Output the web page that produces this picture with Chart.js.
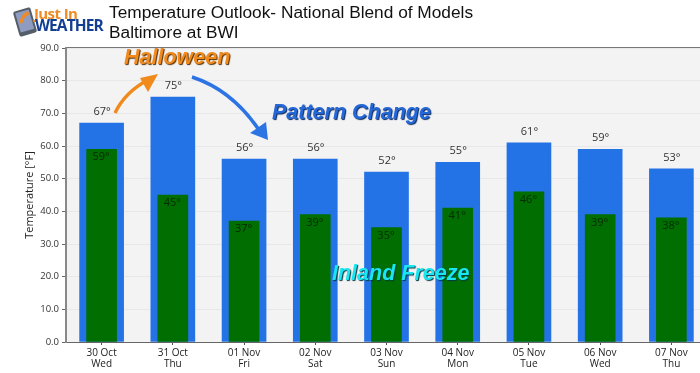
<!DOCTYPE html>
<html>
<head>
<meta charset="utf-8">
<script src="https://cdn.jsdelivr.net/npm/chart.js@4"></script>
<style>
  html, body { margin: 0; padding: 0; background: #fff; overflow: hidden; }
  #wrap { position: relative; width: 700px; height: 373px; overflow: hidden; }
  #box { position: absolute; left: 0; top: 0; width: 707px; height: 373px; }
  .title { position: absolute; left: 109px; font: 17.3px "Liberation Sans", sans-serif; color: #111; white-space: nowrap; }
  .note { position: absolute; font: italic bold 21.5px "Liberation Sans", sans-serif; white-space: nowrap; }
  #logo1 { position: absolute; left: 34px; top: 3px; font: bold 15px "Open Sans", sans-serif; color: #ef8b24; letter-spacing: -0.6px; }
  #logo2 { position: absolute; left: 35px; top: 14px; font: bold 15.5px "Open Sans", sans-serif; color: #123f94; letter-spacing: -0.9px; }
  svg { position: absolute; left: 0; top: 0; }
</style>
</head>
<body>
<div id="wrap">
  <div id="box"><canvas id="c"></canvas></div>
  <svg width="700" height="373">
    <g transform="rotate(-16 25 22)">
      <rect x="16" y="9" width="18" height="26" rx="2" fill="#555d68"/>
      <rect x="18" y="11" width="14" height="20" fill="#8d9cc0"/>
      <path d="M19 22 Q23 13 31 12 L31 16 Q25 17 23 22 Z" fill="#ee8a2a"/>
    </g>
    <path d="M115 113 Q125 92 148 80" fill="none" stroke="#f08a1d" stroke-width="3.5"/>
    <path d="M158 74 L140 78 L148 92 Z" fill="#f08a1d"/>
    <path d="M192 77 Q232 90 259 130" fill="none" stroke="#2c74e4" stroke-width="3.5"/>
    <path d="M268 140 L250 133 L266 122 Z" fill="#2c74e4"/>
  </svg>
  <div id="logo1">Just In</div>
  <div id="logo2">WEATHER</div>
  <div class="title" style="top:2px">Temperature Outlook- National Blend of Models</div>
  <div class="title" style="top:22px">Baltimore at BWI</div>
  <div class="note" style="left:124px;top:45px;color:#f08a1d;text-shadow:1px 1px 1px #5a3000">Halloween</div>
  <div class="note" style="left:272px;top:100px;color:#2468d8;text-shadow:1px 1px 1px #0a2a60">Pattern Change</div>
  <div class="note" style="left:332px;top:261px;color:#19e6f0;text-shadow:1px 1px 1px #063a40">Inland Freeze</div>
</div>
<script>
const days = ["30 Oct", "31 Oct", "01 Nov", "02 Nov", "03 Nov", "04 Nov", "05 Nov", "06 Nov", "07 Nov"];
const weekdays = ["Wed", "Thu", "Fri", "Sat", "Sun", "Mon", "Tue", "Wed", "Thu"];
const highs = [67, 75, 56, 56, 52, 55, 61, 59, 53];
const lows = [59, 45, 37, 39, 35, 41, 46, 39, 38];
const yTicks = [0, 10, 20, 30, 40, 50, 60, 70, 80, 90];

const labels = days.map((d, i) => [d, weekdays[i]]);

// plot background, top spine and the degree labels
const extras = {
  id: "extras",
  beforeDraw(chart) {
    const { ctx, chartArea: a } = chart;
    ctx.save();
    ctx.fillStyle = "#f3f3f4";
    ctx.fillRect(a.left, a.top, a.right - a.left, a.bottom - a.top);
    ctx.fillStyle = "#777";
    ctx.fillRect(a.left - 1, a.top - 1, a.right - a.left, 2);
    ctx.restore();
  },
  afterDatasetsDraw(chart) {
    const { ctx, scales } = chart;
    ctx.save();
    ctx.font = '11px "Open Sans"';
    ctx.textAlign = "center";
    ctx.textBaseline = "middle";
    highs.forEach((v, i) => {
      ctx.fillStyle = "#333";
      ctx.fillText(v + "°", scales.x.getPixelForValue(i) + 0.5, scales.y.getPixelForValue(v) - 11);
    });
    lows.forEach((v, i) => {
      ctx.fillStyle = "#042a04";
      ctx.fillText(v + "°", scales.x.getPixelForValue(i) - 0.5, scales.y.getPixelForValue(v) + 8);
    });
    ctx.restore();
  },
};

new Chart(document.getElementById("c"), {
  type: "bar",
  data: {
    labels: labels,
    datasets: [
      { label: "Low", data: lows, backgroundColor: "#006e00", barThickness: 30, order: 1 },
      { label: "High", data: highs, backgroundColor: "#2473e6", barThickness: 44, order: 2 },
    ],
  },
  options: {
    responsive: true,
    maintainAspectRatio: false,
    animation: false,
    layout: { padding: { top: 48, right: 0, bottom: 0, left: 23 } },
    plugins: { legend: { display: false }, tooltip: { enabled: false } },
    scales: {
      x: {
        afterFit(axis) { axis.height = 31; },
        grid: { offset: false, drawOnChartArea: false, tickColor: "#555", tickLength: 3 },
        border: { color: "#666", width: 1 },
        ticks: { color: "#222", font: { family: "Open Sans", size: 10, lineHeight: 1.1 }, maxRotation: 0, autoSkip: false, padding: 3 },
      },
      y: {
        min: 0,
        max: 90,
        afterBuildTicks(axis) { axis.ticks = yTicks.map((v) => ({ value: v })); },
        afterFit(axis) { axis.width = 43; },
        grid: { color: "#e8e8ea", tickColor: "#666", tickLength: 4 },
        border: { color: "#888", width: 2 },
        ticks: { color: "#333", font: { family: "Open Sans", size: 9.5 }, padding: 3, callback: (v) => v.toFixed(1) },
        title: { display: true, text: "Temperature [°F]", color: "#222", font: { family: "Open Sans", size: 11 }, padding: 0 },
      },
    },
    datasets: { bar: { grouped: false } },
  },
  plugins: [extras],
});
</script>
</body>
</html>
